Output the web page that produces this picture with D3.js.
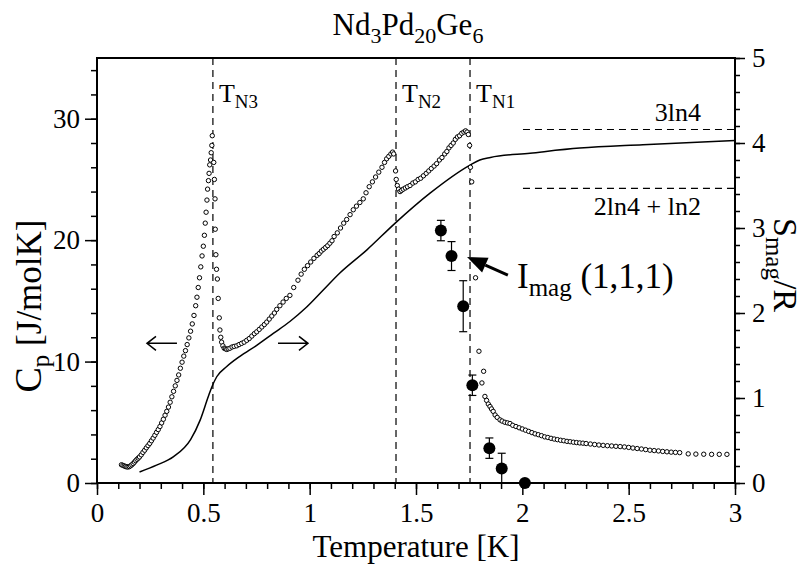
<!DOCTYPE html>
<html>
<head>
<meta charset="utf-8">
<script src="https://cdn.jsdelivr.net/npm/d3@7"></script>
<style>
  body { margin: 0; background: #fff; }
  svg text { font-family: "Liberation Serif", "Times New Roman", Times, "DejaVu Serif", serif; fill: #000; }
</style>
</head>
<body>
<svg id="chart" width="809" height="565" font-family="Liberation Serif"></svg>
<script>
// specific heat, open circles [T (K), Cp (J/molK)]
const cpData = [
  [0.115,1.50],[0.122,1.45],[0.128,1.40],[0.134,1.36],[0.140,1.33],[0.146,1.32],[0.152,1.35],
  [0.158,1.42],[0.164,1.50],[0.170,1.60],[0.176,1.72],[0.182,1.84],[0.188,1.95],[0.194,2.05],
  [0.200,2.15],[0.208,2.32],[0.216,2.52],[0.224,2.70],[0.232,2.90],[0.240,3.08],[0.248,3.26],
  [0.256,3.48],[0.264,3.70],[0.272,3.93],[0.280,4.17],[0.288,4.40],[0.296,4.65],[0.304,4.95],
  [0.312,5.25],[0.320,5.58],[0.328,5.90],[0.336,6.25],[0.344,6.65],[0.352,7.10],[0.360,7.55],
  [0.368,8.00],[0.376,8.45],[0.384,8.90],[0.392,9.45],[0.400,9.95],[0.408,10.45],[0.416,10.90],
  [0.424,11.40],[0.432,11.95],[0.440,12.50],[0.448,13.10],[0.456,13.80],[0.464,14.60],[0.470,15.30],
  [0.476,16.10],[0.482,16.90],[0.488,17.80],[0.494,18.70],[0.500,19.50],[0.505,20.40],[0.509,21.40],
  [0.513,22.30],[0.517,23.30],[0.520,24.20],[0.524,24.90],[0.527,25.50],[0.530,26.20],[0.534,26.60],
  [0.537,27.20],[0.540,27.80],[0.542,28.60],
  [0.549,26.4],[0.552,25.0],[0.555,23.4],[0.556,20.9],[0.559,18.8],[0.562,17.6],[0.566,16.8],
  [0.570,15.2],[0.575,13.6],[0.578,12.6],[0.582,12.0],[0.586,11.6],[0.592,11.3],[0.598,11.1],
  [0.604,11.05],[0.610,11.0],[0.617,11.05],[0.625,11.1],[0.635,11.2],[0.645,11.25],[0.657,11.3],
  [0.668,11.4],[0.680,11.5],[0.692,11.6],[0.704,11.75],[0.716,11.9],[0.728,12.1],[0.740,12.3],
  [0.751,12.45],[0.763,12.65],[0.775,12.85],[0.787,13.05],[0.798,13.25],[0.810,13.5],[0.822,13.75],
  [0.834,14.0],[0.845,14.3],[0.860,14.6],[0.875,14.9],[0.890,15.2],[0.907,15.45],[0.925,16.1],
  [0.945,16.7],[0.960,17.2],[0.975,17.6],[0.990,17.9],[1.005,18.2],[1.020,18.5],[1.035,18.75],
  [1.045,18.9],[1.055,19.1],[1.065,19.25],[1.075,19.4],[1.085,19.55],[1.095,19.75],[1.105,19.95],
  [1.115,20.3],[1.130,20.6],[1.145,21.0],[1.160,21.4],[1.174,21.7],[1.190,22.1],[1.205,22.5],
  [1.220,22.8],[1.236,23.1],[1.252,23.4],[1.265,23.9],[1.280,24.4],[1.295,24.8],[1.310,25.2],
  [1.325,25.6],[1.340,26.0],[1.352,26.4],[1.362,26.7],[1.372,26.9],[1.382,27.1],[1.390,27.25],
  [1.395,27.1],
  [1.404,25.7],[1.407,25.0],[1.412,24.5],[1.418,24.2],[1.425,24.0],[1.432,24.1],[1.440,24.2],
  [1.450,24.3],[1.460,24.4],[1.472,24.5],[1.485,24.7],[1.497,24.8],[1.510,25.0],[1.522,25.1],
  [1.535,25.3],[1.548,25.5],[1.560,25.7],[1.572,25.9],[1.585,26.1],[1.597,26.3],[1.610,26.6],
  [1.622,26.8],[1.635,27.1],[1.645,27.3],[1.655,27.6],[1.665,27.8],[1.675,28.0],[1.685,28.3],
  [1.695,28.5],[1.705,28.6],[1.715,28.8],[1.725,28.9],[1.733,29.0],[1.740,28.9],[1.746,28.7],
  [1.752,27.8],[1.756,26.0],[1.762,24.8],[1.780,16.9],[1.796,10.85],[1.810,8.24],[1.818,9.2],
  [1.824,7.13],[1.832,6.8],[1.840,6.5],[1.848,6.3],[1.855,6.1],[1.863,5.9],[1.872,5.6],
  [1.882,5.4],[1.895,5.2],[1.905,5.1],[1.918,5.0],[1.930,4.95],[1.942,4.9],[1.955,4.75],
  [1.970,4.65],[1.985,4.55],[2.000,4.45],[2.015,4.35],[2.030,4.25],[2.045,4.15],[2.060,4.05],
  [2.075,3.98],[2.090,3.90],[2.105,3.80],[2.120,3.75],[2.135,3.68],[2.150,3.62],[2.165,3.57],
  [2.180,3.52],[2.195,3.48],[2.210,3.43],[2.225,3.40],[2.240,3.36],[2.255,3.33],[2.270,3.30],
  [2.285,3.28],[2.300,3.25],[2.320,3.21],[2.340,3.17],[2.360,3.13],[2.380,3.10],[2.400,3.07],
  [2.420,3.05],[2.440,3.02],[2.460,3.00],[2.480,2.97],[2.500,2.93],[2.520,2.88],[2.540,2.84],
  [2.560,2.80],[2.580,2.75],[2.600,2.70],[2.620,2.67],[2.640,2.64],[2.660,2.60],[2.680,2.57],
  [2.700,2.54],[2.720,2.52],[2.740,2.50],
  [2.780,2.40],[2.816,2.38],[2.853,2.37],[2.890,2.36],[2.926,2.36],[2.962,2.36]
];

// magnetic entropy, solid line [T (K), S/R]
const entropyData = [
  [0.20,0.13],[0.28,0.21],[0.36,0.31],[0.44,0.51],[0.485,0.74],[0.523,1.015],[0.54,1.13],
  [0.563,1.25],[0.61,1.37],[0.672,1.49],[0.751,1.62],[0.829,1.76],[0.907,1.90],[0.986,2.07],
  [1.064,2.27],[1.142,2.47],[1.268,2.74],[1.401,3.055],[1.566,3.41],[1.754,3.74],[1.80,3.80],
  [1.85,3.83],[2.036,3.88],[2.27,3.94],[2.567,3.98],[3.0,4.03]
];

// neutron intensity (1,1,1), filled circles [T, value on right scale, error]
const imagData = [
  [1.617,2.97,0.12],[1.667,2.67,0.17],[1.722,2.08,0.30],[1.765,1.15,0.12],
  [1.845,0.41,0.12],[1.903,0.17,0.18],[2.012,0.0,0]
];

const transitions = [
  { t: 0.545, sub: 'N3' },
  { t: 1.406, sub: 'N2' },
  { t: 1.754, sub: 'N1' }
];

const entropyLimits = [
  { v: 3 * Math.log(4), label: '3ln4', dy: -8 },
  { v: 2 * Math.log(4) + Math.log(2), label: '2ln4 + ln2', dy: 27 }
];

const xMajor = [0, 0.5, 1, 1.5, 2, 2.5, 3];
const xMinor = d3.range(0, 31).map(d => d / 10);
const yLeftMajor = [0, 10, 20, 30];
const yLeftMinor = d3.range(0, 35, 2);
const yRightMajor = [0, 1, 2, 3, 4, 5];
const yRightMinor = d3.range(0, 26).map(d => d / 5);

const width = 809, height = 565;
const plot = { left: 97, right: 735, top: 58, bottom: 483 };
const FONT = '"Liberation Serif", "Times New Roman", Times, "DejaVu Serif", serif';

const svg = d3.select('#chart');

const x = d3.scaleLinear().domain([0, 3]).range([plot.left, plot.right]);
const yL = d3.scaleLinear().domain([0, 35]).range([plot.bottom, plot.top]);
const yR = d3.scaleLinear().domain([0, 5]).range([plot.bottom, plot.top]);

function styleAxis(g, size) {
    g.attr('font-family', FONT);
    g.select('.domain').remove();
    g.selectAll('.tick line').attr('stroke', '#000').attr('stroke-width', 1.5);
    g.selectAll('.tick text').attr('font-family', FONT).style('font-size', size + 'px');
}

// bottom axis
svg.append('g').attr('transform', `translate(0,${plot.bottom})`)
    .call(d3.axisBottom(x).tickValues(xMinor).tickSize(6).tickFormat(''))
    .call(g => styleAxis(g, 27));
svg.append('g').attr('transform', `translate(0,${plot.bottom})`)
    .call(d3.axisBottom(x).tickValues(xMajor).tickSize(12).tickPadding(8).tickFormat(d => d))
    .call(g => styleAxis(g, 27));

// left axis
svg.append('g').attr('transform', `translate(${plot.left},0)`)
    .call(d3.axisLeft(yL).tickValues(yLeftMinor).tickSize(6).tickFormat(''))
    .call(g => styleAxis(g, 27));
svg.append('g').attr('transform', `translate(${plot.left},0)`)
    .call(d3.axisLeft(yL).tickValues(yLeftMajor).tickSize(12).tickPadding(5).tickFormat(d => d))
    .call(g => styleAxis(g, 27));

// right axis
svg.append('g').attr('transform', `translate(${plot.right},0)`)
    .call(d3.axisRight(yR).tickValues(yRightMinor).tickSize(5).tickFormat(''))
    .call(g => styleAxis(g, 27));
svg.append('g').attr('transform', `translate(${plot.right},0)`)
    .call(d3.axisRight(yR).tickValues(yRightMajor).tickSize(10).tickPadding(7).tickFormat(d => d))
    .call(g => styleAxis(g, 27));

// frame
svg.append('rect')
    .attr('x', plot.left).attr('y', plot.top)
    .attr('width', plot.right - plot.left).attr('height', plot.bottom - plot.top)
    .attr('fill', 'none').attr('stroke', '#000').attr('stroke-width', 2);

// transition lines
transitions.forEach(d => {
    svg.append('line')
        .attr('x1', x(d.t)).attr('x2', x(d.t))
        .attr('y1', plot.top).attr('y2', plot.bottom)
        .attr('stroke', '#000').attr('stroke-width', 1.2)
        .attr('stroke-dasharray', '7,5');
    const t = svg.append('text')
        .attr('x', x(d.t) + 6).attr('y', 102)
        .style('font-size', '26px');
    t.append('tspan').text('T');
    t.append('tspan').attr('dy', 6).style('font-size', '19px').text(d.sub);
});

// entropy limits
entropyLimits.forEach(d => {
    svg.append('line')
        .attr('x1', x(2.003)).attr('x2', plot.right)
        .attr('y1', yR(d.v)).attr('y2', yR(d.v))
        .attr('stroke', '#000').attr('stroke-width', 1.2)
        .attr('stroke-dasharray', '7,5');
    svg.append('text')
        .attr('x', x(2.84)).attr('y', yR(d.v) + d.dy)
        .attr('text-anchor', 'end')
        .style('font-size', '26px')
        .text(d.label);
});

// entropy curve
svg.append('path')
    .datum(entropyData)
    .attr('fill', 'none')
    .attr('stroke', '#000')
    .attr('stroke-width', 1.5)
    .attr('d', d3.line().x(d => x(d[0])).y(d => yR(d[1])).curve(d3.curveMonotoneX));

// Cp open circles
svg.append('g').selectAll('circle')
    .data(cpData)
    .join('circle')
    .attr('cx', d => x(d[0]))
    .attr('cy', d => yL(d[1]))
    .attr('r', 2.2)
    .attr('fill', '#fff')
    .attr('stroke', '#000')
    .attr('stroke-width', 1);

// Imag error bars and points
const ig = svg.append('g');
imagData.filter(d => d[2] > 0).forEach(d => {
    const cx = x(d[0]);
    const lo = yR(Math.max(0, d[1] - d[2])), hi = yR(d[1] + d[2]);
    ig.append('line').attr('x1', cx).attr('x2', cx).attr('y1', lo).attr('y2', hi)
        .attr('stroke', '#000').attr('stroke-width', 1.2);
    [lo, hi].forEach(yy => {
        if (yy < plot.bottom - 1) {
            ig.append('line').attr('x1', cx - 4).attr('x2', cx + 4).attr('y1', yy).attr('y2', yy)
                .attr('stroke', '#000').attr('stroke-width', 1.2);
        }
    });
});
ig.selectAll('circle')
    .data(imagData)
    .join('circle')
    .attr('cx', d => x(d[0]))
    .attr('cy', d => yR(d[1]))
    .attr('r', 6)
    .attr('fill', '#000');

// left / right arrows
function openArrow(x1, x2, yy) {
    const dir = Math.sign(x2 - x1);
    svg.append('path')
        .attr('d', `M${x1},${yy}L${x2},${yy}M${x2 - dir * 9},${yy - 7}L${x2},${yy}L${x2 - dir * 9},${yy + 7}`)
        .attr('fill', 'none').attr('stroke', '#000').attr('stroke-width', 1.5);
}
openArrow(x(0.376), x(0.235), yL(11.5));
openArrow(x(0.851), x(0.992), yL(11.5));

// Imag pointer
{
    const tx = x(1.932), ty = yR(2.447), hx = x(1.740), hy = yR(2.659);
    const ang = Math.atan2(hy - ty, hx - tx);
    const L = 20, W = 8;
    const bx = hx - L * Math.cos(ang), by = hy - L * Math.sin(ang);
    svg.append('line').attr('x1', tx).attr('y1', ty).attr('x2', bx).attr('y2', by)
        .attr('stroke', '#000').attr('stroke-width', 3);
    svg.append('path')
        .attr('d', `M${hx},${hy}L${bx + W * Math.sin(ang)},${by - W * Math.cos(ang)}L${bx - W * Math.sin(ang)},${by + W * Math.cos(ang)}Z`)
        .attr('fill', '#000');
    const t = svg.append('text').attr('x', x(1.975)).attr('y', 288).style('font-size', '35px');
    t.append('tspan').text('I');
    t.append('tspan').attr('dy', 8).style('font-size', '25px').text('mag');
    t.append('tspan').attr('dy', -8).text(' (1,1,1)');
}

// title
{
    const t = svg.append('text').attr('x', 408).attr('y', 35)
        .attr('text-anchor', 'middle').style('font-size', '31px');
    const parts = [['Nd', 0], ['3', 1], ['Pd', 0], ['20', 1], ['Ge', 0], ['6', 1]];
    let prev = 0;
    parts.forEach(p => {
        t.append('tspan')
            .attr('dy', (p[1] - prev) * 8)
            .style('font-size', p[1] ? '22px' : '31px')
            .text(p[0]);
        prev = p[1];
    });
}

// axis titles
svg.append('text')
    .attr('x', 416).attr('y', 557)
    .attr('text-anchor', 'middle')
    .style('font-size', '31px')
    .text('Temperature [K]');

{
    const t = svg.append('text')
        .attr('transform', 'translate(41,306) rotate(-90)')
        .attr('text-anchor', 'middle')
        .style('font-size', '35px');
    t.append('tspan').style('font-size', '38px').text('C');
    t.append('tspan').attr('dy', 8).style('font-size', '25px').text('p');
    t.append('tspan').attr('dy', -8).text(' [J/molK]');
}

{
    const t = svg.append('text')
        .attr('transform', 'translate(774,265) rotate(90)')
        .attr('text-anchor', 'middle')
        .style('font-size', '34px');
    t.append('tspan').text('S');
    t.append('tspan').attr('dy', 8).style('font-size', '25px').text('mag');
    t.append('tspan').attr('dy', -8).text('/R');
}
</script>
</body>
</html>
